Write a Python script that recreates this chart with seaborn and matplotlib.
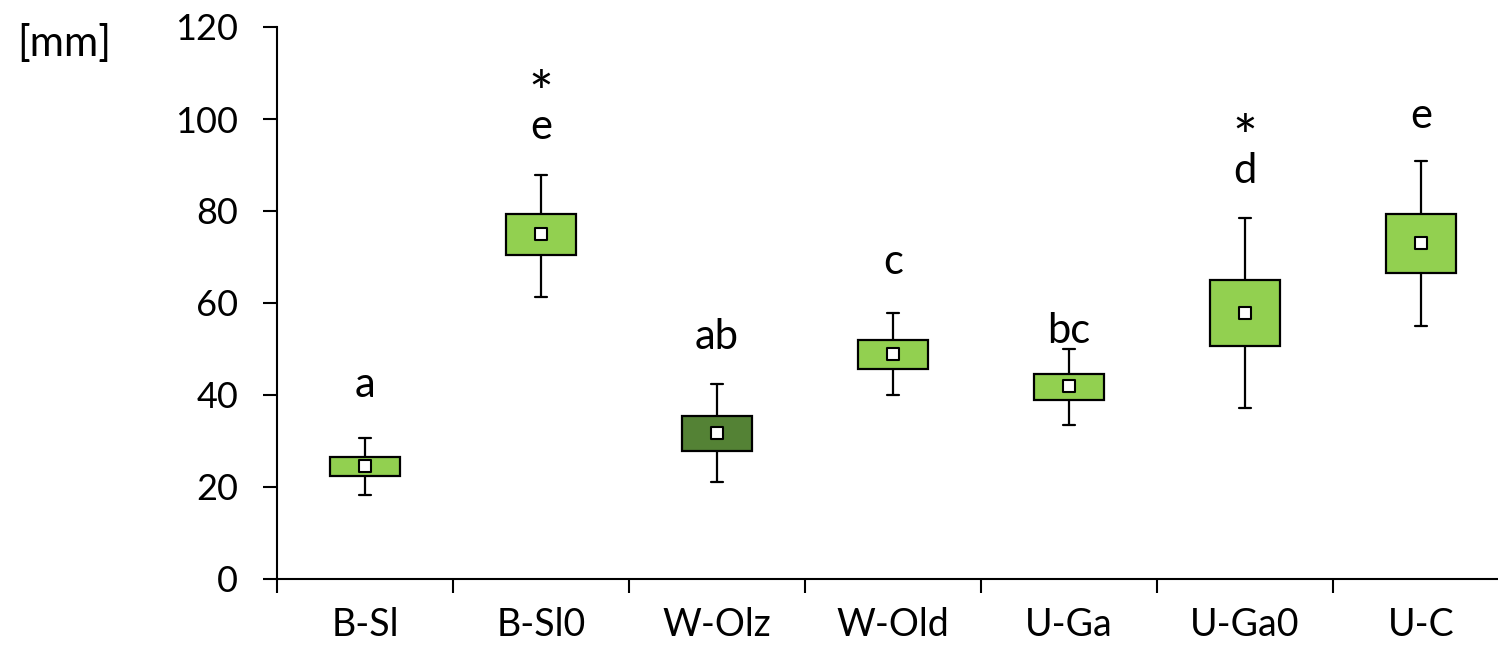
import matplotlib
matplotlib.use("Agg")
import matplotlib.pyplot as plt
import seaborn as sns
import pandas as pd

# box statistics [mm]
groups = ["B-Sl", "B-Sl0", "W-Olz", "W-Old", "U-Ga", "U-Ga0", "U-C"]
whisk_lo = [18.3, 61.3, 21.1, 40.0, 33.5, 37.2, 55.0]
q1 = [22.4, 70.4, 27.8, 45.7, 38.9, 50.7, 66.5]
mean = [24.6, 75.0, 31.7, 48.9, 42.0, 57.8, 73.0]
q3 = [26.5, 79.3, 35.4, 52.0, 44.6, 65.0, 79.3]
whisk_hi = [30.6, 87.8, 42.4, 57.8, 50.0, 78.5, 90.9]
letters = ["a", "e", "ab", "c", "bc", "d", "e"]
letter_y = [42.2, 98.3, 52.6, 68.9, 53.9, 88.7, 100.7]
stars = [False, True, False, False, False, True, False]

colors = {g: "#92D050" for g in groups}
colors["W-Olz"] = "#548235"

# five values per group so that min/q1/q3/max hit the read quartiles
rows = []
for i, g in enumerate(groups):
    for v in [whisk_lo[i], q1[i], mean[i], q3[i], whisk_hi[i]]:
        rows.append({"group": g, "value": v})
d = pd.DataFrame(rows)
m = pd.DataFrame({"group": groups, "mean": mean})

sns.set_style("ticks")
plt.rcParams["font.family"] = ["Lato", "DejaVu Sans"]
plt.rcParams["text.color"] = "black"
plt.rcParams["xtick.color"] = "black"
plt.rcParams["ytick.color"] = "black"

fig = plt.figure(figsize=(14.98, 6.51), dpi=100)
ax = fig.add_axes([277 / 1498, 1 - 579 / 651, 1 - 277 / 1498, (579 - 27) / 651])

sns.boxplot(data=d, x="group", y="value", hue="group", palette=colors,
            order=groups, width=0.4, whis=(0, 100), linewidth=1.6,
            linecolor="black", saturation=1, legend=False, ax=ax,
            medianprops={"visible": False}, capwidths=0.07)
sns.stripplot(data=m, x="group", y="mean", order=groups, jitter=False,
              marker="s", size=9, color="white", edgecolor="black",
              linewidth=1.5, ax=ax, zorder=5)

for i, g in enumerate(groups):
    ax.text(i, letter_y[i], letters[i], ha="center", va="center", fontsize=30)
    if stars[i]:
        ax.text(i, letter_y[i] + 6.7, "*", ha="center", va="center", fontsize=42)

ax.set_ylim(0, 120)
ax.set_xlim(-0.5, (1498 - 277) / 176 - 0.5)
ax.set_yticks([0, 20, 40, 60, 80, 100, 120])
ax.set_xticks(range(len(groups)))
ax.set_xticklabels(groups)
ax.set_xticks([i - 0.5 for i in range(len(groups))], minor=True)
ax.tick_params(axis="x", which="major", length=0, pad=20, labelsize=27)
ax.tick_params(axis="x", which="minor", length=10, width=1.5, direction="out")
ax.tick_params(axis="y", length=10, width=1.5, pad=18, labelsize=26)
ax.set_xlabel("")
ax.set_ylabel("")
for s in ["top", "right"]:
    ax.spines[s].set_visible(False)
for s in ["left", "bottom"]:
    ax.spines[s].set_linewidth(1.5)
    ax.spines[s].set_color("black")

fig.text(64 / 1498, 1 - 44 / 651, "[mm]", ha="center", va="center", fontsize=30)

fig.savefig("out.png", dpi=100)
